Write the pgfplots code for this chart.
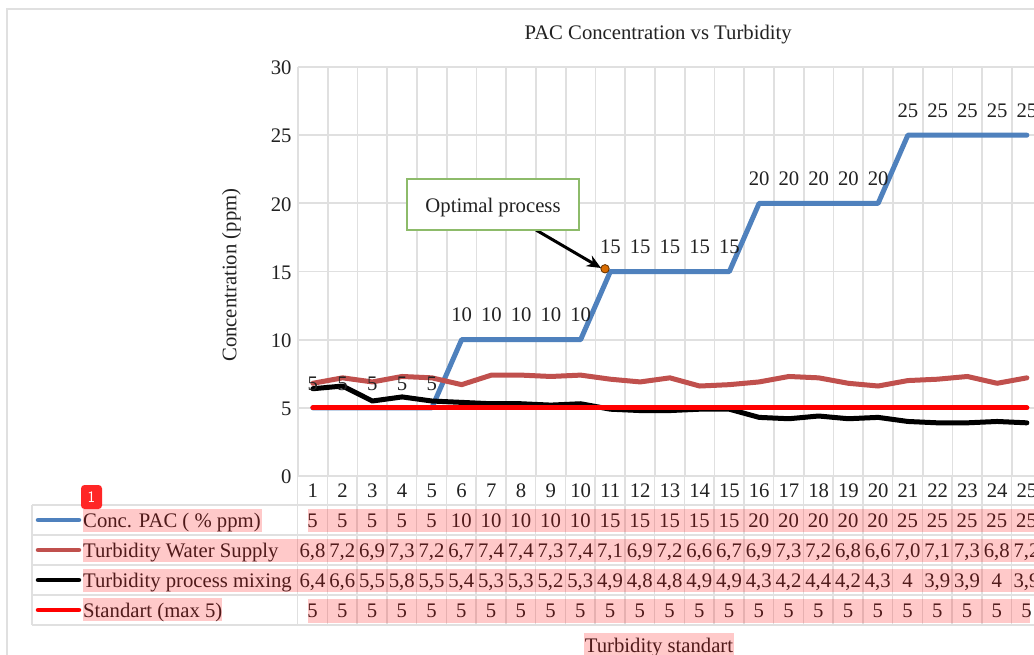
\documentclass[border=0pt]{standalone}
\usepackage{pgfplots}
\pgfplotsset{compat=1.18}
\usepackage{fontspec}
\setmainfont{Liberation Serif}
\usetikzlibrary{arrows.meta}
\definecolor{gridc}{HTML}{E0E0E0}
\definecolor{pacb}{HTML}{4F81BD}
\definecolor{wsb}{HTML}{C0504D}
\definecolor{boxg}{HTML}{8DBB6A}
\definecolor{txt}{HTML}{222222}
\newcommand{\fs}{\fontsize{20.7}{23}\selectfont}
\begin{document}
\begin{tikzpicture}[x=1pt,y=-1pt,every node/.style={font=\fs,text=txt}]
\clip (0,0) rectangle (1034,655);
\fill[white] (0,0) rectangle (1034,655);
% outer frame
\draw[gridc,line width=1.6pt] (7,700) -- (7,9) -- (1040,9);
\begin{axis}[
  at={(298pt,-476pt)},anchor=south west,
  scale only axis,width=736pt,height=409pt,
  xmin=0.5,xmax=25.24,ymin=0,ymax=30,
  clip=false,
  axis line style={draw=none},
  tick style={draw=none},
  grid=both,
  grid style={gridc,line width=1.7pt},
  xtick={1,...,25},
  minor xtick={0.5,1.5,...,25},
  xmajorgrids=false,xminorgrids=true,
  ytick={0,5,...,30},
  yminorgrids=false,
  ylabel={Concentration (ppm)},
  ylabel style={at={(axis description cs:-0.0905,0.491)},anchor=center,rotate=0},
  title={PAC Concentration vs Turbidity},
  title style={at={(axis description cs:0.488,1.085)},anchor=center,yshift=-8pt,xshift=1pt},
  ticklabel style={font=\fs},
  label style={font=\fs},
  /pgf/number format/assume math mode=true,
  yticklabel style={xshift=-3pt,yshift=-1pt},
  xticklabel style={yshift=-4pt},
  every axis plot/.append style={line cap=round,line join=round},
]
\addplot[pacb,line width=5pt,nodes near coords,
  every node near coord/.style={font=\fs,text=txt,anchor=south,yshift=15pt,inner sep=0pt}]
 coordinates {(1,5)(2,5)(3,5)(4,5)(5,5)(6,10)(7,10)(8,10)(9,10)(10,10)(11,15)(12,15)(13,15)(14,15)(15,15)(16,20)(17,20)(18,20)(19,20)(20,20)(21,25)(22,25)(23,25)(24,25)(25,25)};
\addplot[wsb,line width=5pt]
 coordinates {(1,6.8)(2,7.2)(3,6.9)(4,7.3)(5,7.2)(6,6.7)(7,7.4)(8,7.4)(9,7.3)(10,7.4)(11,7.1)(12,6.9)(13,7.2)(14,6.6)(15,6.7)(16,6.9)(17,7.3)(18,7.2)(19,6.8)(20,6.6)(21,7.0)(22,7.1)(23,7.3)(24,6.8)(25,7.2)};
\addplot[black,line width=5pt]
 coordinates {(1,6.4)(2,6.6)(3,5.5)(4,5.8)(5,5.5)(6,5.4)(7,5.3)(8,5.3)(9,5.2)(10,5.3)(11,4.9)(12,4.8)(13,4.8)(14,4.9)(15,4.9)(16,4.3)(17,4.2)(18,4.4)(19,4.2)(20,4.3)(21,4)(22,3.9)(23,3.9)(24,4)(25,3.9)};
\addplot[red,line width=5pt]
 coordinates {(1,5)(2,5)(3,5)(4,5)(5,5)(6,5)(7,5)(8,5)(9,5)(10,5)(11,5)(12,5)(13,5)(14,5)(15,5)(16,5)(17,5)(18,5)(19,5)(20,5)(21,5)(22,5)(23,5)(24,5)(25,5)};
\addplot[only marks,mark=*,mark size=4.2pt,mark options={fill=orange!85!black,draw=black!60!orange,line width=.8pt}]
 coordinates {(10.82,15.2)};
\end{axis}
% annotation
\draw[black,line width=3pt,-{Stealth[length=14pt,width=12pt]}] (536,230) -- (601,268);
\node[draw=boxg,line width=2pt,fill=white,minimum width=172pt,minimum height=51pt,inner sep=0pt] at (493,205) {};
\node[inner sep=0pt] at (493,208) {Optimal process};
% table text
\newcommand{\rowvals}[2]{\foreach \v [count=\i] in {#2} {\node[anchor=base,inner sep=0pt] at ({312.5+29.75*(\i-1)},#1) {\v};}}
\rowvals{527}{5,5,5,5,5,10,10,10,10,10,15,15,15,15,15,20,20,20,20,20,25,25,25,25,25}
\rowvals{557}{{6,8},{7,2},{6,9},{7,3},{7,2},{6,7},{7,4},{7,4},{7,3},{7,4},{7,1},{6,9},{7,2},{6,6},{6,7},{6,9},{7,3},{7,2},{6,8},{6,6},{7,0},{7,1},{7,3},{6,8},{7,2}}
\rowvals{587}{{6,4},{6,6},{5,5},{5,8},{5,5},{5,4},{5,3},{5,3},{5,2},{5,3},{4,9},{4,8},{4,8},{4,9},{4,9},{4,3},{4,2},{4,4},{4,2},{4,3},4,{3,9},{3,9},4,{3,9}}
\rowvals{617}{5,5,5,5,5,5,5,5,5,5,5,5,5,5,5,5,5,5,5,5,5,5,5,5,5}
\node[anchor=base west,inner sep=0pt] at (83,527) {Conc. PAC ( \% ppm)};
\node[anchor=base west,inner sep=0pt] at (83,557) {Turbidity Water Supply};
\node[anchor=base west,inner sep=0pt] at (83,587) {Turbidity process mixing};
\node[anchor=base west,inner sep=0pt] at (83,617) {Standart (max 5)};
\node[anchor=base,inner sep=0pt] at (659,652) {Turbidity standart};
% table lines
\foreach \y in {505,535,565,595,625} \draw[gridc,line width=1.7pt] (32,\y) -- (1040,\y);
\draw[gridc,line width=1.7pt] (32,505) -- (32,625);
\foreach \k in {0,...,25} \draw[gridc,line width=1.7pt] ({297.6+29.75*\k},476) -- ({297.6+29.75*\k},625);
% legend keys
\draw[pacb,line width=4.5pt,line cap=round] (38,520) -- (79,520);
\draw[wsb,line width=4.5pt,line cap=round] (38,550) -- (79,550);
\draw[black,line width=4.5pt,line cap=round] (38,580) -- (79,580);
\draw[red,line width=4.5pt,line cap=round] (38,610) -- (79,610);
% highlights
\begin{scope}[fill=red,fill opacity=.21]
\fill (83,509) rectangle (262,532);
\fill (308,509) rectangle (1034,532);
\fill (83,539) rectangle (1034,562);
\fill (83,569) rectangle (1034,592);
\fill (83,598) rectangle (222,621);
\fill (308,599) rectangle (1030,623);
\fill (584,633) rectangle (734,655);
\end{scope}
% badge
\fill[red!85!white,rounded corners=3.5pt] (81,485) rectangle (102,509);
\node[font=\sffamily\fontsize{16}{17}\selectfont,text=white,inner sep=0pt] at (91.5,497) {1};
\end{tikzpicture}
\end{document}
